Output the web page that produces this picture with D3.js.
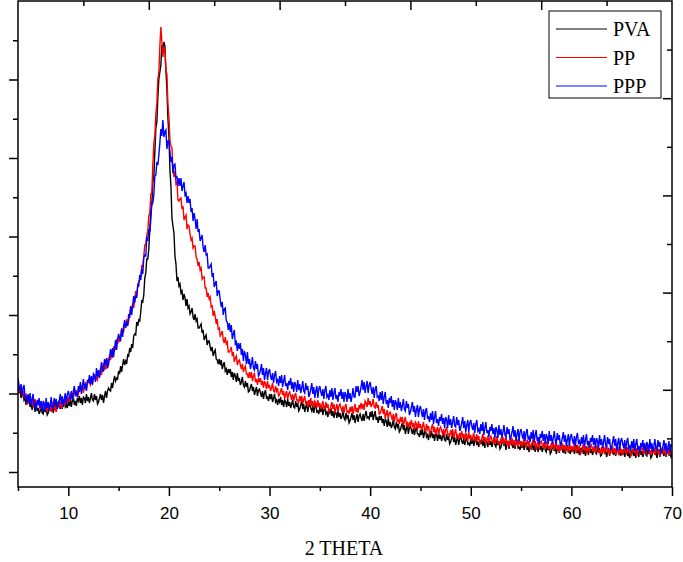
<!DOCTYPE html>
<html>
<head>
<meta charset="utf-8">
<script src="https://cdn.jsdelivr.net/npm/d3@7"></script>
<style>
  body { margin: 0; background: #ffffff; }
  svg { display: block; }
</style>
</head>
<body>
<svg id="chart" width="683" height="562"></svg>
<script>
// X-ray diffraction patterns, intensity in arbitrary units,
// one row per degree of 2θ (0.1° steps), from 5 to 70
const seriesNames = ["PVA", "PP", "PPP"];
const seriesColors = ["#000000", "#ff0000", "#0000ff"];
const thetaStart = 5;
const thetaStep = 0.1;
const xMajorTicks = [10, 20, 30, 40, 50, 60, 70];
const xMinorTicks = [5, 15, 25, 35, 45, 55, 65];
const xAxisTitle = "2 THETA";

const pva = [
  85,79,84,74,78,81,72,74,67,73,
  69,73,65,70,62,69,66,60,69,61,
  64,58,61,66,59,58,65,60,65,57,
  59,63,68,61,67,59,64,69,61,68,
  70,66,63,70,63,69,72,65,67,64,
  71,66,73,65,71,75,67,71,66,74,
  71,76,69,74,67,75,74,69,78,71,
  75,69,74,79,72,71,78,72,76,68,
  70,74,78,72,77,69,76,81,74,81,
  84,82,81,89,84,91,96,91,94,93,
  101,98,106,100,107,113,107,111,108,117,
  116,124,120,128,124,136,138,137,150,146,
  152,151,160,171,170,177,194,199,213,213,
  223,242,262,267,290,295,320,344,350,375,
  393,400,407,427,422,430,426,402,383,354,
  336,302,286,254,246,239,216,208,191,195,
  186,188,179,181,172,178,174,166,173,164,
  166,158,160,164,155,152,158,151,153,144,
  144,146,148,139,142,132,135,137,127,131,
  131,125,121,125,116,120,122,113,112,108,
  113,107,112,103,107,110,101,103,97,103,
  99,103,95,100,92,99,96,90,99,91,
  94,87,90,95,87,85,91,85,89,80,
  81,85,88,81,85,77,81,85,76,82,
  83,79,75,81,73,79,82,74,75,71,
  78,73,78,70,74,78,70,72,67,73,
  70,75,67,72,65,72,70,65,73,66,
  70,64,68,72,65,64,71,65,69,61,
  63,67,71,63,68,60,65,68,60,66,
  68,64,61,66,59,65,68,60,61,58,
  65,60,66,57,62,66,58,60,55,62,
  59,64,56,61,54,61,59,54,62,55,
  59,53,56,61,54,52,59,54,57,49,
  51,55,59,52,57,49,54,58,50,56,
  58,54,51,58,51,57,61,54,55,53,
  60,55,61,52,57,61,52,55,49,56,
  52,56,49,53,46,53,51,45,54,46,
  50,44,47,52,45,43,50,45,48,40,
  42,46,49,42,47,38,43,47,38,44,
  46,42,38,44,37,42,45,38,38,35,
  42,37,43,34,39,43,35,37,32,39,
  36,41,34,38,31,39,37,31,40,33,
  37,31,35,39,32,31,38,32,36,28,
  30,34,38,30,35,27,32,35,27,33,
  35,31,28,34,27,32,35,28,29,26,
  33,28,34,26,31,35,27,30,25,32,
  28,33,26,31,24,32,30,25,34,27,
  31,25,29,34,27,25,32,27,31,23,
  25,29,33,26,31,22,28,31,23,29,
  31,27,24,30,23,29,31,24,25,22,
  29,24,30,22,27,30,22,25,20,27,
  24,29,22,27,20,27,25,20,29,22,
  26,20,24,29,22,20,27,22,26,18,
  20,24,28,21,26,18,23,27,19,25,
  26,22,19,25,18,24,27,20,21,18,
  25,20,26,18,23,27,19,22,17,24,
  20,25,18,23,16,24,22,17,26,19,
  23,17,21,26,19,18,25,20,24,16,
  17,21,25,18,23,15,20,24,16,22,
  24,20,17,23,16,22,25,18,19,16,
  22,17,23,15,20,24,16,19,14,21,
  18,23,16,21,14,22,20,15,24,17,
  21,15,19,24,17,16,23,18,22,14,
  16,20,24,17,22,14,19,23,15,21,
  23,19,16,22,15,21,24,17,18,15,
  19
];

const pp = [
  87,80,82,86,78,75,81,75,77,68,
  69,72,76,68,73,65,69,73,64,70,
  71,67,63,69,62,67,70,63,63,60,
  67,62,68,60,65,70,62,65,60,68,
  65,71,64,70,64,72,71,67,76,70,
  75,70,75,80,74,74,82,78,82,75,
  78,83,87,81,87,79,85,90,82,89,
  92,89,87,94,88,94,98,92,94,92,
  100,96,104,97,104,109,102,107,103,112,
  110,117,112,119,114,125,125,122,133,128,
  134,130,136,144,139,140,149,146,153,147,
  151,158,165,161,169,164,173,181,177,186,
  191,192,195,206,205,216,227,228,237,241,
  256,259,278,279,307,329,336,358,368,393,
  400,426,445,430,415,424,422,402,398,368,
  355,332,326,324,303,295,301,288,290,272,
  271,273,274,263,266,252,255,257,243,247,
  246,238,232,234,224,226,226,215,213,206,
  210,202,204,193,195,195,184,184,175,179,
  173,175,165,166,156,161,156,148,153,143,
  144,136,138,141,132,129,135,128,130,120,
  120,122,125,116,120,110,114,116,107,111,
  112,107,103,108,100,104,106,98,98,94,
  100,94,100,91,96,99,90,93,87,94,
  90,94,87,91,84,91,88,83,91,84,
  87,81,84,89,81,80,86,81,84,76,
  77,81,84,77,81,73,78,81,73,78,
  80,76,72,78,71,76,79,72,72,69,
  76,71,76,68,73,76,68,71,65,72,
  69,74,66,71,64,71,69,64,72,65,
  69,63,67,71,64,63,70,64,68,60,
  62,66,70,63,68,59,64,68,60,66,
  68,64,61,66,59,65,68,60,61,58,
  65,60,66,58,63,68,60,64,59,67,
  64,69,63,68,62,71,69,65,74,67,
  71,65,68,73,65,64,70,64,67,58,
  59,62,66,58,63,54,58,62,53,59,
  60,56,52,58,50,56,59,51,52,48,
  55,50,55,47,51,55,47,49,44,50,
  47,52,45,49,42,50,48,42,51,44,
  48,42,45,50,43,41,48,43,46,38,
  40,44,48,40,45,37,42,45,37,43,
  45,41,38,43,36,42,45,38,38,35,
  42,37,43,34,39,43,35,37,32,39,
  36,41,34,38,31,39,37,31,40,33,
  37,31,35,39,32,31,38,32,36,28,
  30,34,38,31,35,27,32,36,28,34,
  36,32,29,35,28,33,36,29,30,27,
  34,29,35,27,32,35,27,30,25,32,
  29,34,27,32,25,32,30,25,34,27,
  31,25,29,34,27,25,32,27,31,23,
  25,29,33,26,31,22,28,31,23,29,
  31,27,24,30,23,28,31,24,25,22,
  29,24,30,22,27,30,22,25,20,27,
  24,29,22,27,20,27,25,20,29,22,
  26,20,24,29,22,20,27,22,26,18,
  20,24,28,21,26,18,23,27,19,25,
  27,23,20,26,19,24,27,20,21,18,
  25,20,26,18,23,27,19,22,17,24,
  21,26,19,24,17,24,22,17,26,19,
  23,17,21,26,19,18,25,20,24,16,
  18,22,26,19,24,16,21,25,17,23,
  25,21,18,24,17,23,26,19,20,17,
  24,19,25,17,22,26,18,21,16,23,
  20,25,18,23,16,24,22,17,26,19,
  21
];

const ppp = [
  94,87,81,88,76,84,87,75,76,69,
  78,70,79,66,73,78,66,70,62,72,
  67,74,64,71,60,71,68,61,74,64,
  70,61,67,75,65,64,74,68,73,63,
  66,71,78,68,76,65,73,79,68,77,
  81,76,72,81,72,81,86,77,79,75,
  86,80,90,78,86,93,83,88,81,92,
  89,97,88,96,87,98,96,90,104,95,
  102,94,102,110,101,101,113,107,114,104,
  108,115,123,115,124,115,124,132,122,133,
  138,134,132,143,135,146,152,144,149,146,
  158,154,166,157,167,176,169,177,174,187,
  186,197,192,203,198,214,217,216,235,231,
  243,240,252,269,269,277,296,297,310,307,
  317,329,343,336,352,335,340,342,323,331,
  331,320,310,315,299,307,308,294,295,286,
  294,286,294,281,286,290,277,279,269,276,
  269,273,260,264,251,259,253,243,253,240,
  243,231,234,237,224,220,227,217,218,204,
  204,206,208,195,199,185,188,191,176,181,
  181,172,165,170,157,163,164,151,150,142,
  149,140,147,133,138,142,128,130,121,129,
  123,129,117,123,111,121,117,108,120,108,
  113,103,108,115,104,102,111,103,108,96,
  98,102,108,97,104,92,99,104,92,100,
  103,96,92,99,89,97,101,90,92,86,
  96,89,97,85,91,97,86,89,82,91,
  87,94,83,90,80,90,87,80,92,82,
  88,79,84,91,81,79,89,82,86,75,
  78,83,89,78,85,74,81,86,74,83,
  86,80,76,83,73,82,86,75,77,72,
  82,75,84,72,79,84,73,77,70,80,
  76,83,73,80,70,80,77,70,83,73,
  79,70,76,84,75,75,86,80,86,76,
  80,85,92,82,90,79,86,91,79,87,
  90,83,78,85,74,83,86,75,76,71,
  80,72,81,68,75,80,68,72,64,74,
  69,76,65,72,62,72,69,62,74,64,
  70,61,66,73,63,61,71,64,68,57,
  60,65,70,60,66,55,62,67,55,63,
  66,60,55,63,52,61,64,54,55,50,
  59,52,61,48,55,61,49,53,46,55,
  51,58,48,54,44,55,52,44,57,47,
  53,44,50,56,46,45,55,47,52,41,
  44,49,55,44,51,40,47,52,40,49,
  52,46,42,49,39,48,52,41,43,38,
  48,41,50,37,44,50,39,42,35,45,
  41,48,38,44,34,45,42,34,47,37,
  43,34,40,47,37,35,45,38,43,32,
  35,40,46,35,42,31,38,43,31,40,
  43,37,33,41,31,39,43,33,35,30,
  40,33,42,30,37,42,31,35,28,38,
  34,41,31,38,28,38,35,28,41,31,
  37,28,34,41,31,29,39,32,37,26,
  29,34,40,30,37,26,32,38,26,35,
  38,32,28,36,26,35,39,29,31,26,
  35,28,37,25,32,38,27,31,24,34,
  30,37,27,34,24,34,31,24,37,27,
  33,24,30,37,27,25,35,28,33,22,
  25,30,36,26,33,21,29,34,22,31,
  34,28,24,32,22,30,34,24,26,21,
  31,24,33,21,28,33,22,26,19,29,
  25,32,22,29,19,30,27,20,33,23,
  29,20,26,33,23,22,32,25,30,19,
  21,26,32,22,29,18,25,31,19,28,
  25
];

const seriesData = [pva, pp, ppp];

const svg = d3.select("#chart");
const frame = { left: 18, right: 672, top: 1, bottom: 487 };

const x = d3.scaleLinear().domain([5, 70]).range([frame.left, frame.right]);
const y = d3.scaleLinear().domain([-15, 471]).range([frame.bottom, frame.top]);
// mirrored axes on the top and right carry their own tick spacing
const xTop = d3.scaleLinear().domain([0, 10]).range([frame.left, frame.right]);
const yRight = d3.scaleLinear().domain([0, 10]).range([frame.bottom, frame.top]);

const leftMajor = d3.range(0, 471, 78.5);
const leftMinor = d3.range(39.25, 471, 78.5);

svg.append("defs").append("clipPath").attr("id", "plot-clip")
  .append("rect")
  .attr("x", frame.left).attr("y", frame.top)
  .attr("width", frame.right - frame.left).attr("height", frame.bottom - frame.top);

// patterns: PVA first, then PP, PPP on top
const line = d3.line()
  .x((d, i) => x(thetaStart + i * thetaStep))
  .y(d => y(d));

svg.append("g").attr("clip-path", "url(#plot-clip)")
  .selectAll("path")
  .data(seriesData)
  .join("path")
  .attr("d", d => line(d))
  .attr("fill", "none")
  .attr("stroke", (d, i) => seriesColors[i])
  .attr("stroke-width", 1.4);

function styleAxis(g) {
  g.select(".domain").remove();
  g.selectAll(".tick line").attr("stroke", "#000").attr("stroke-width", 1.5);
}

// bottom axis
svg.append("g").attr("transform", `translate(0,${frame.bottom})`)
  .call(d3.axisBottom(x).tickValues(xMajorTicks).tickSize(9).tickPadding(11))
  .call(styleAxis)
  .call(g => g.selectAll("text")
    .attr("font-family", "'Liberation Sans', Arial, sans-serif")
    .attr("font-size", 17).attr("fill", "#000"));
svg.append("g").attr("transform", `translate(0,${frame.bottom})`)
  .call(d3.axisBottom(x).tickValues(xMinorTicks).tickSize(4).tickFormat(""))
  .call(styleAxis);

// top axis (ticks inward)
svg.append("g").attr("transform", `translate(0,${frame.top})`)
  .call(d3.axisBottom(xTop).tickValues([2, 4, 6, 8]).tickSize(9).tickFormat(""))
  .call(styleAxis);
svg.append("g").attr("transform", `translate(0,${frame.top})`)
  .call(d3.axisBottom(xTop).tickValues([1, 3, 5, 7, 9]).tickSize(5).tickFormat(""))
  .call(styleAxis);

// left axis (ticks outward, unlabeled)
svg.append("g").attr("transform", `translate(${frame.left},0)`)
  .call(d3.axisLeft(y).tickValues(leftMajor).tickSize(9).tickFormat(""))
  .call(styleAxis);
svg.append("g").attr("transform", `translate(${frame.left},0)`)
  .call(d3.axisLeft(y).tickValues(leftMinor).tickSize(5).tickFormat(""))
  .call(styleAxis);

// right axis (ticks inward)
svg.append("g").attr("transform", `translate(${frame.right},0)`)
  .call(d3.axisLeft(yRight).tickValues([2, 4, 6, 8]).tickSize(9).tickFormat(""))
  .call(styleAxis);
svg.append("g").attr("transform", `translate(${frame.right},0)`)
  .call(d3.axisLeft(yRight).tickValues([1, 3, 5, 7, 9]).tickSize(5).tickFormat(""))
  .call(styleAxis);

// frame
svg.append("rect")
  .attr("x", frame.left).attr("y", frame.top)
  .attr("width", frame.right - frame.left).attr("height", frame.bottom - frame.top)
  .attr("fill", "none").attr("stroke", "#000").attr("stroke-width", 1.5);

// axis title
svg.append("text")
  .attr("x", 344).attr("y", 555)
  .attr("text-anchor", "middle")
  .attr("font-family", "'Liberation Serif', 'Times New Roman', serif")
  .attr("font-size", 20).attr("fill", "#000")
  .text(xAxisTitle);

// legend
const legend = svg.append("g").attr("transform", "translate(549,11)");
legend.append("rect")
  .attr("width", 112).attr("height", 87)
  .attr("fill", "#fff").attr("stroke", "#000").attr("stroke-width", 1);
const rows = legend.selectAll("g.row").data(seriesNames).join("g")
  .attr("class", "row")
  .attr("transform", (d, i) => `translate(0,${18 + i * 28.5})`);
rows.append("line")
  .attr("x1", 7).attr("x2", 58).attr("y1", 0).attr("y2", 0)
  .attr("stroke", (d, i) => seriesColors[i]).attr("stroke-width", 1);
rows.append("text")
  .attr("x", 64).attr("y", 7)
  .attr("font-family", "'Liberation Serif', 'Times New Roman', serif")
  .attr("font-size", 20).attr("fill", "#000")
  .text(d => d);
</script>
</body>
</html>
